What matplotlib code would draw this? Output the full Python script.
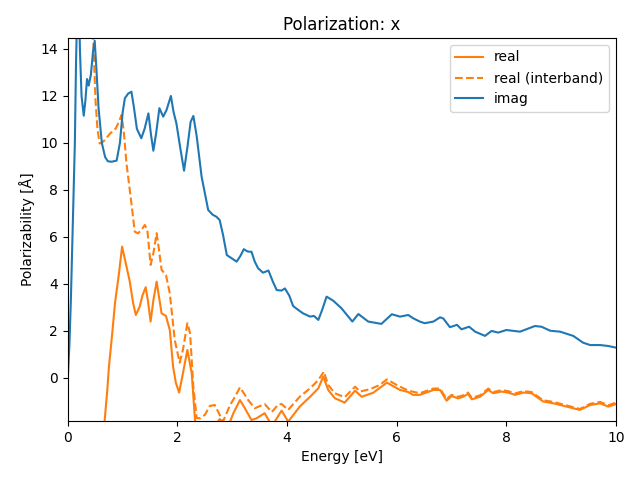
import matplotlib
matplotlib.use("Agg")
import matplotlib.pyplot as plt

# imag part
e_imag = [0.0, 0.03, 0.055, 0.09, 0.128, 0.15, 0.18, 0.2, 0.22, 0.25,
          0.29, 0.32, 0.35, 0.38, 0.42, 0.46, 0.49, 0.52, 0.56, 0.62,
          0.68, 0.73, 0.80, 0.89, 0.95, 1.0, 1.04, 1.10, 1.16, 1.20,
          1.26, 1.34, 1.40, 1.47, 1.52, 1.56, 1.61, 1.67, 1.74, 1.80,
          1.88, 1.93, 1.98, 2.05, 2.12, 2.18, 2.24, 2.29, 2.35, 2.44,
          2.56, 2.64, 2.71, 2.77, 2.83, 2.90, 2.99, 3.08, 3.15, 3.21,
          3.28, 3.35, 3.41, 3.47, 3.56, 3.66, 3.74, 3.81, 3.90, 3.96,
          4.04, 4.11, 4.20, 4.29, 4.42, 4.49, 4.57, 4.64, 4.72, 4.84,
          4.99, 5.19, 5.30, 5.48, 5.72, 5.91, 6.06, 6.21, 6.30, 6.42,
          6.51, 6.67, 6.79, 6.85, 6.97, 7.10, 7.18, 7.32, 7.43, 7.61,
          7.73, 7.85, 8.0, 8.25, 8.52, 8.64, 8.80, 8.98, 9.22, 9.40,
          9.53, 9.71, 9.86, 10.0]
imag = [0.0, 1.5, 3.3, 6.5, 10.0, 13.5, 16.5, 16.5, 14.0, 12.0,
        11.16, 11.8, 12.72, 12.44, 12.9, 13.9, 14.35, 13.2, 11.5, 10.0,
        9.4, 9.22, 9.2, 9.25, 10.0, 11.3, 11.9, 12.1, 12.18, 11.6,
        10.6, 10.2, 10.6, 11.26, 10.3, 9.67, 10.4, 11.48, 11.12, 11.4,
        12.0, 11.3, 10.84, 9.8, 8.82, 9.8, 10.9, 11.15, 10.3, 8.57,
        7.15, 6.95, 6.86, 6.72, 6.1, 5.23, 5.09, 4.95, 5.2, 5.48,
        5.38, 5.37, 4.95, 4.67, 4.48, 4.57, 4.1, 3.74, 3.72, 3.81,
        3.5, 3.06, 2.9, 2.75, 2.61, 2.64, 2.47, 2.9, 3.46, 3.29,
        2.97, 2.40, 2.72, 2.4, 2.3, 2.71, 2.61, 2.68, 2.54, 2.4,
        2.33, 2.4, 2.58, 2.53, 2.16, 2.26, 2.07, 2.18, 1.97, 1.79,
        2.0, 1.93, 2.04, 1.97, 2.21, 2.18, 2.01, 1.97, 1.79, 1.5,
        1.4, 1.4, 1.36, 1.29]

# real part, interband only
e_inter = [0.0, 0.3, 0.44, 0.47, 0.505, 0.54, 0.58, 0.62, 0.675, 0.77,
           0.876, 0.93, 0.98, 1.02, 1.07, 1.16, 1.22, 1.28, 1.34, 1.405,
           1.45, 1.51, 1.56, 1.62, 1.66, 1.71, 1.79, 1.86, 1.95, 2.04,
           2.10, 2.18, 2.23, 2.29, 2.35, 2.41, 2.5, 2.59, 2.68, 2.77,
           2.83, 2.96, 3.05, 3.14, 3.23, 3.29, 3.41, 3.59, 3.72, 3.84,
           3.90, 4.02, 4.23, 4.42, 4.57, 4.67, 4.75, 4.87, 5.05, 5.24,
           5.33, 5.51, 5.69, 5.82, 6.0, 6.21, 6.42, 6.67, 6.79, 6.91,
           7.0, 7.12, 7.21, 7.30, 7.37, 7.52, 7.67, 7.76, 7.91, 8.03,
           8.16, 8.31, 8.46, 8.67, 8.86, 9.10, 9.34, 9.53, 9.71, 9.86,
           10.0]
real_inter = [30.0, 20.0, 15.5, 14.0, 11.8, 10.6, 9.98, 10.0, 10.13, 10.4,
              10.62, 10.9, 11.19, 10.5, 9.13, 7.43, 6.23, 6.15, 6.3, 6.51,
              6.3, 4.81, 5.3, 6.16, 5.5, 4.6, 4.38, 3.6, 1.62, 0.65,
              1.2, 2.33, 1.9, -0.4, -1.7, -1.72, -1.57, -1.19, -1.15, -1.57,
              -1.86, -1.15, -0.8, -0.4, -0.72, -0.94, -1.29, -1.11, -1.45, -1.13,
              -1.11, -1.36, -0.8, -0.44, -0.09, 0.27, -0.3, -0.65, -0.82, -0.37,
              -0.58, -0.48, -0.3, -0.06, -0.3, -0.54, -0.65, -0.45, -0.45, -0.9,
              -0.72, -0.8, -0.74, -0.62, -0.85, -0.74, -0.45, -0.6, -0.52, -0.56,
              -0.66, -0.56, -0.6, -0.95, -1.02, -1.17, -1.32, -1.1, -1.02, -1.16,
              -1.05]

# real part, full
e_real = [0.0, 0.4, 0.6, 0.67, 0.72, 0.75, 0.81, 0.86, 0.93, 0.99,
          1.07, 1.13, 1.19, 1.24, 1.31, 1.36, 1.42, 1.46, 1.51, 1.56,
          1.62, 1.66, 1.71, 1.79, 1.86, 1.92, 1.97, 2.03, 2.10, 2.18,
          2.26, 2.32, 2.4, 2.6, 2.77, 2.9, 2.96, 3.02, 3.14, 3.23,
          3.35, 3.44, 3.59, 3.69, 3.75, 3.90, 4.02, 4.23, 4.42, 4.57,
          4.66, 4.75, 4.87, 5.05, 5.24, 5.36, 5.57, 5.82, 6.06, 6.21,
          6.30, 6.42, 6.67, 6.79, 6.91, 7.0, 7.12, 7.21, 7.30, 7.37,
          7.52, 7.67, 7.76, 7.91, 8.03, 8.16, 8.31, 8.46, 8.67, 8.86,
          9.10, 9.34, 9.53, 9.71, 9.86, 10.0]
real = [-60.0, -12.0, -4.0, -1.86, -0.51, 0.48, 1.9, 3.18, 4.4, 5.59,
        4.74, 4.1, 3.2, 2.68, 3.03, 3.5, 3.86, 3.3, 2.4, 3.3,
        4.1, 3.5, 2.75, 2.64, 2.04, 0.48, -0.2, -0.62, 0.2, 1.19,
        0.2, -1.79, -2.5, -2.3, -1.75, -2.2, -1.85, -1.5, -0.94, -1.29,
        -1.79, -1.72, -1.5, -1.9, -1.95, -1.39, -1.86, -1.22, -0.8, -0.44,
        0.06, -0.51, -0.86, -1.05, -0.54, -0.8, -0.63, -0.2, -0.51, -0.6,
        -0.72, -0.72, -0.51, -0.51, -0.97, -0.77, -0.87, -0.8, -0.68, -0.91,
        -0.8, -0.51, -0.65, -0.58, -0.62, -0.72, -0.62, -0.65, -1.0, -1.08,
        -1.22, -1.36, -1.15, -1.08, -1.22, -1.11]

fig, ax = plt.subplots(figsize=(6.4, 4.8), dpi=100)
ax.plot(e_real, real, color="C1", label="real")
ax.plot(e_inter, real_inter, color="C1", linestyle="--", label="real (interband)")
ax.plot(e_imag, imag, color="C0", label="imag")

ax.set_xlim(0, 10)
ax.set_ylim(-1.83, 14.47)
ax.set_title("Polarization: x")
ax.set_xlabel("Energy [eV]")
ax.set_ylabel("Polarizability [Å]")
ax.legend(loc="upper right")
fig.subplots_adjust(left=0.106, right=0.9625, top=0.921, bottom=0.123)
fig.savefig("out.png")
